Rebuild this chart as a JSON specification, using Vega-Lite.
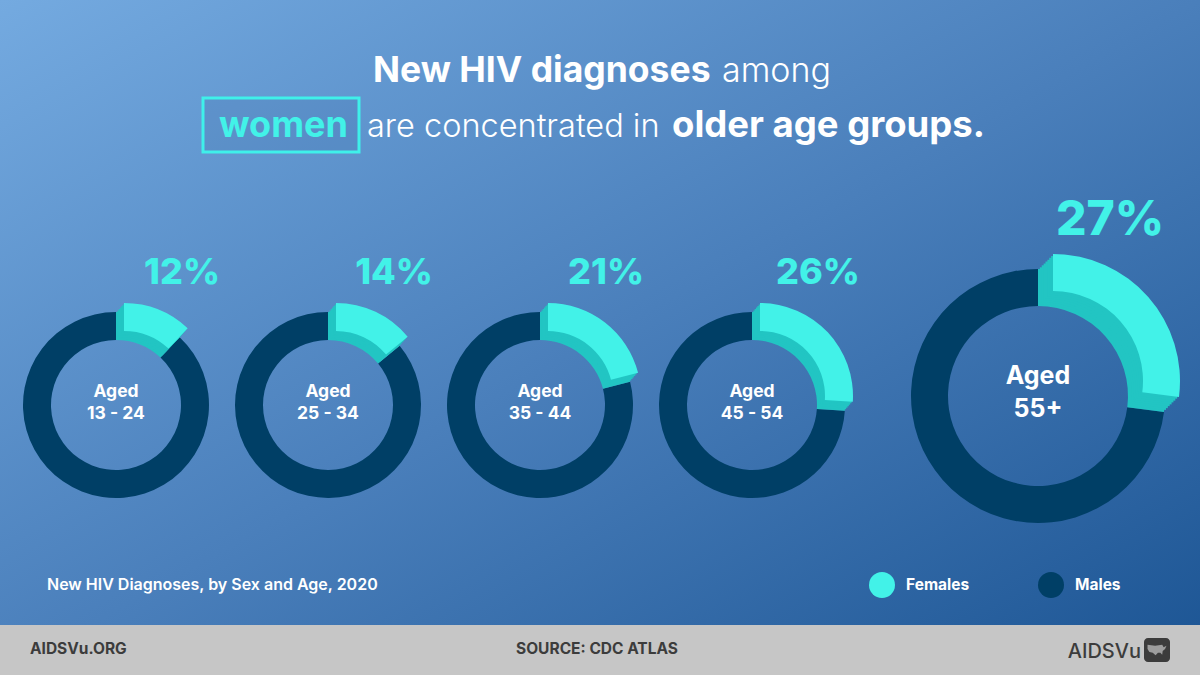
{
  "$schema": "https://vega.github.io/schema/vega-lite/v6.json",
  "width": 1200,
  "height": 675,
  "autosize": {"type": "fit", "contains": "padding"},
  "padding": 0,
  "background": "#c6c6c6",
  "config": {"view": {"stroke": null}, "text": {"font": "Inter"}},
  "datasets": {
    "hiv": [
      {"age": "13 - 24", "sex": "Females", "pct": 0.12},
      {"age": "13 - 24", "sex": "Males", "pct": 0.88},
      {"age": "25 - 34", "sex": "Females", "pct": 0.14},
      {"age": "25 - 34", "sex": "Males", "pct": 0.86},
      {"age": "35 - 44", "sex": "Females", "pct": 0.21},
      {"age": "35 - 44", "sex": "Males", "pct": 0.79},
      {"age": "45 - 54", "sex": "Females", "pct": 0.26},
      {"age": "45 - 54", "sex": "Males", "pct": 0.74},
      {"age": "55+", "sex": "Females", "pct": 0.27},
      {"age": "55+", "sex": "Males", "pct": 0.73}
    ]
  },
  "layer": [
    {
      "data": {"values": [{}]},
      "mark": {"type": "rect", "color": {"gradient": "linear", "x1": 0, "y1": 0, "x2": 1, "y2": 1, "stops": [{"offset": 0, "color": "#74aae0"}, {"offset": 0.5, "color": "#4a7fbb"}, {"offset": 1, "color": "#1b5493"}]}},
      "encoding": {}
    },
    {
      "data": {"values": [{}]},
      "mark": {"type": "rect", "color": "#c6c6c6", "y": 625, "y2": 675},
      "encoding": {}
    },
    {
      "data": {"values": [{}]},
      "mark": {"type": "rect", "x": 203, "x2": 359, "y": 98, "y2": 152, "fill": "#2f5f9a", "fillOpacity": 0.15, "stroke": "#3ff0ea", "strokeWidth": 3},
      "encoding": {}
    },
    {
      "data": {"values": [{}]},
      "mark": {"type": "text", "text": "New HIV diagnoses", "x": 373, "y": 82, "align": "left", "baseline": "alphabetic", "fontSize": 35.5, "fontWeight": 700, "color": "#ffffff"},
      "encoding": {}
    },
    {
      "data": {"values": [{}]},
      "mark": {"type": "text", "text": "among", "x": 722, "y": 82, "align": "left", "baseline": "alphabetic", "fontSize": 34, "fontWeight": 300, "color": "#ffffff"},
      "encoding": {}
    },
    {
      "data": {"values": [{}]},
      "mark": {"type": "text", "text": "women", "x": 219, "y": 137, "align": "left", "baseline": "alphabetic", "fontSize": 36, "fontWeight": 700, "color": "#42f2e8"},
      "encoding": {}
    },
    {
      "data": {"values": [{}]},
      "mark": {"type": "text", "text": "are concentrated in", "x": 367, "y": 137, "align": "left", "baseline": "alphabetic", "fontSize": 32.5, "fontWeight": 300, "color": "#ffffff"},
      "encoding": {}
    },
    {
      "data": {"values": [{}]},
      "mark": {"type": "text", "text": "older age groups.", "x": 672, "y": 137, "align": "left", "baseline": "alphabetic", "fontSize": 36.5, "fontWeight": 700, "color": "#ffffff"},
      "encoding": {}
    },
    {
      "data": {"values": [{}]},
      "mark": {"type": "text", "text": "New HIV Diagnoses, by Sex and Age, 2020", "x": 47, "y": 590, "align": "left", "baseline": "alphabetic", "fontSize": 16, "fontWeight": 600, "color": "#ffffff"},
      "encoding": {}
    },
    {
      "data": {"values": [{}]},
      "mark": {"type": "text", "text": "AIDSVu.ORG", "x": 30, "y": 654, "align": "left", "baseline": "alphabetic", "fontSize": 15.5, "fontWeight": 700, "color": "#3c3c3c"},
      "encoding": {}
    },
    {
      "data": {"values": [{}]},
      "mark": {"type": "text", "text": "SOURCE: CDC ATLAS", "x": 597, "y": 654, "align": "center", "baseline": "alphabetic", "fontSize": 15.5, "fontWeight": 700, "color": "#3c3c3c"},
      "encoding": {}
    },
    {
      "data": {"values": [{}]},
      "mark": {"type": "text", "text": "AIDSVu", "x": 1141, "y": 658, "align": "right", "baseline": "alphabetic", "fontSize": 20, "fontWeight": 500, "color": "#3c3c3c"},
      "encoding": {}
    },
    {
      "data": {"values": [{}]},
      "mark": {"type": "rect", "x": 1144, "x2": 1170, "y": 638, "y2": 662, "cornerRadius": 4, "color": "#3c3c3c"},
      "encoding": {}
    },
    {
      "data": {"values": [{}]},
      "mark": {"type": "point", "x": 1157, "y": 650, "filled": true, "color": "#c6c6c6", "size": 360, "shape": "M-1,-0.55 L-0.2,-0.45 L0.55,-0.55 L0.7,-0.3 L1,-0.45 L0.85,-0.1 L0.6,0.1 L0.55,0.5 L0.35,0.3 L0.1,0.3 L-0.15,0.55 L-0.45,0.3 L-0.8,0.2 L-1,-0.1 Z"},
      "encoding": {}
    },
    {
      "data": {"name": "hiv"},
      "transform": [
        {"filter": "datum.age != '55+'"},
        {"stack": "pct", "groupby": ["age"], "sort": [{"field": "sex", "order": "ascending"}], "as": ["p0", "p1"]}
      ],
      "encoding": {
        "x": {"field": "age", "type": "nominal", "scale": {"type": "point", "domain": ["13 - 24", "25 - 34", "35 - 44", "45 - 54"], "range": [116, 752], "padding": 0}, "axis": null},
        "y": {"value": 405}
      },
      "layer": [
        {
          "transform": [{"filter": "datum.sex == 'Males'"}],
          "mark": {"type": "arc", "radius": 93, "radius2": 65},
          "encoding": {
            "theta": {"field": "p0", "type": "quantitative", "scale": {"domain": [0, 1], "range": [0, 6.283185307179586]}},
            "theta2": {"field": "p1"},
            "color": {"field": "sex", "type": "nominal", "scale": {"domain": ["Females", "Males"], "range": ["#42f2e8", "#003f66"]}, "legend": {"orient": "none", "legendX": 869, "legendY": 572, "direction": "horizontal", "title": null, "symbolType": "circle", "symbolSize": 676, "symbolStrokeWidth": 0, "symbolOpacity": 1, "labelFont": "Inter", "labelFontSize": 15.5, "labelFontWeight": 700, "labelColor": "#ffffff", "labelOffset": 11, "columnPadding": 68}}
          }
        },
        {"transform": [{"filter": "datum.sex == 'Females'"}], "mark": {"type": "arc", "radius": 93, "radius2": 65, "color": "#22c5c3"}, "encoding": {"theta": {"field": "p0", "type": "quantitative", "scale": {"domain": [0, 1], "range": [0, 6.283185307179586]}}, "theta2": {"field": "p1"}}},
        {"transform": [{"filter": "datum.sex == 'Females'"}], "mark": {"type": "arc", "radius": 93, "radius2": 65, "color": "#22c5c3", "xOffset": 1.33, "yOffset": -1.5}, "encoding": {"theta": {"field": "p0", "type": "quantitative", "scale": {"domain": [0, 1], "range": [0, 6.283185307179586]}}, "theta2": {"field": "p1"}}},
        {"transform": [{"filter": "datum.sex == 'Females'"}], "mark": {"type": "arc", "radius": 93, "radius2": 65, "color": "#22c5c3", "xOffset": 2.67, "yOffset": -3}, "encoding": {"theta": {"field": "p0", "type": "quantitative", "scale": {"domain": [0, 1], "range": [0, 6.283185307179586]}}, "theta2": {"field": "p1"}}},
        {"transform": [{"filter": "datum.sex == 'Females'"}], "mark": {"type": "arc", "radius": 93, "radius2": 65, "color": "#22c5c3", "xOffset": 4, "yOffset": -4.5}, "encoding": {"theta": {"field": "p0", "type": "quantitative", "scale": {"domain": [0, 1], "range": [0, 6.283185307179586]}}, "theta2": {"field": "p1"}}},
        {"transform": [{"filter": "datum.sex == 'Females'"}], "mark": {"type": "arc", "radius": 93, "radius2": 65, "color": "#22c5c3", "xOffset": 5.33, "yOffset": -6}, "encoding": {"theta": {"field": "p0", "type": "quantitative", "scale": {"domain": [0, 1], "range": [0, 6.283185307179586]}}, "theta2": {"field": "p1"}}},
        {"transform": [{"filter": "datum.sex == 'Females'"}], "mark": {"type": "arc", "radius": 93, "radius2": 65, "color": "#22c5c3", "xOffset": 6.67, "yOffset": -7.5}, "encoding": {"theta": {"field": "p0", "type": "quantitative", "scale": {"domain": [0, 1], "range": [0, 6.283185307179586]}}, "theta2": {"field": "p1"}}},
        {
          "transform": [{"filter": "datum.sex == 'Females'"}],
          "mark": {"type": "arc", "radius": 93, "radius2": 65, "xOffset": 8, "yOffset": -9},
          "encoding": {
            "theta": {"field": "p0", "type": "quantitative", "scale": {"domain": [0, 1], "range": [0, 6.283185307179586]}},
            "theta2": {"field": "p1"},
            "color": {"field": "sex", "type": "nominal", "scale": {"domain": ["Females", "Males"], "range": ["#42f2e8", "#003f66"]}}
          }
        },
        {
          "transform": [{"filter": "datum.sex == 'Females'"}],
          "mark": {"type": "text", "text": "Aged", "dy": -8, "baseline": "alphabetic", "fontSize": 17.5, "fontWeight": 700, "color": "#ffffff"}
        },
        {
          "transform": [{"filter": "datum.sex == 'Females'"}],
          "mark": {"type": "text", "dy": 14, "baseline": "alphabetic", "fontSize": 17.5, "fontWeight": 700, "color": "#ffffff"},
          "encoding": {"text": {"field": "age"}}
        },
        {
          "transform": [{"filter": "datum.sex == 'Females'"}],
          "mark": {"type": "text", "dx": 66, "dy": -121, "baseline": "alphabetic", "fontSize": 36, "fontWeight": 800, "color": "#42f2e8"},
          "encoding": {"text": {"field": "pct", "format": ".0%"}}
        }
      ]
    },
    {
      "data": {"name": "hiv"},
      "transform": [
        {"filter": "datum.age == '55+'"},
        {"stack": "pct", "groupby": ["age"], "sort": [{"field": "sex", "order": "ascending"}], "as": ["p0", "p1"]}
      ],
      "encoding": {
        "x": {"field": "age", "type": "nominal", "scale": {"type": "point", "domain": ["55+"], "range": [1038, 1038], "padding": 0}, "axis": null},
        "y": {"value": 396}
      },
      "layer": [
        {
          "transform": [{"filter": "datum.sex == 'Males'"}],
          "mark": {"type": "arc", "radius": 127, "radius2": 90},
          "encoding": {
            "theta": {"field": "p0", "type": "quantitative", "scale": {"domain": [0, 1], "range": [0, 6.283185307179586]}},
            "theta2": {"field": "p1"},
            "color": {"field": "sex", "type": "nominal", "scale": {"domain": ["Females", "Males"], "range": ["#42f2e8", "#003f66"]}}
          }
        },
        {"transform": [{"filter": "datum.sex == 'Females'"}], "mark": {"type": "arc", "radius": 127, "radius2": 90, "color": "#22c5c3"}, "encoding": {"theta": {"field": "p0", "type": "quantitative", "scale": {"domain": [0, 1], "range": [0, 6.283185307179586]}}, "theta2": {"field": "p1"}}},
        {"transform": [{"filter": "datum.sex == 'Females'"}], "mark": {"type": "arc", "radius": 127, "radius2": 90, "color": "#22c5c3", "xOffset": 1.875, "yOffset": -1.875}, "encoding": {"theta": {"field": "p0", "type": "quantitative", "scale": {"domain": [0, 1], "range": [0, 6.283185307179586]}}, "theta2": {"field": "p1"}}},
        {"transform": [{"filter": "datum.sex == 'Females'"}], "mark": {"type": "arc", "radius": 127, "radius2": 90, "color": "#22c5c3", "xOffset": 3.75, "yOffset": -3.75}, "encoding": {"theta": {"field": "p0", "type": "quantitative", "scale": {"domain": [0, 1], "range": [0, 6.283185307179586]}}, "theta2": {"field": "p1"}}},
        {"transform": [{"filter": "datum.sex == 'Females'"}], "mark": {"type": "arc", "radius": 127, "radius2": 90, "color": "#22c5c3", "xOffset": 5.625, "yOffset": -5.625}, "encoding": {"theta": {"field": "p0", "type": "quantitative", "scale": {"domain": [0, 1], "range": [0, 6.283185307179586]}}, "theta2": {"field": "p1"}}},
        {"transform": [{"filter": "datum.sex == 'Females'"}], "mark": {"type": "arc", "radius": 127, "radius2": 90, "color": "#22c5c3", "xOffset": 7.5, "yOffset": -7.5}, "encoding": {"theta": {"field": "p0", "type": "quantitative", "scale": {"domain": [0, 1], "range": [0, 6.283185307179586]}}, "theta2": {"field": "p1"}}},
        {"transform": [{"filter": "datum.sex == 'Females'"}], "mark": {"type": "arc", "radius": 127, "radius2": 90, "color": "#22c5c3", "xOffset": 9.375, "yOffset": -9.375}, "encoding": {"theta": {"field": "p0", "type": "quantitative", "scale": {"domain": [0, 1], "range": [0, 6.283185307179586]}}, "theta2": {"field": "p1"}}},
        {"transform": [{"filter": "datum.sex == 'Females'"}], "mark": {"type": "arc", "radius": 127, "radius2": 90, "color": "#22c5c3", "xOffset": 11.25, "yOffset": -11.25}, "encoding": {"theta": {"field": "p0", "type": "quantitative", "scale": {"domain": [0, 1], "range": [0, 6.283185307179586]}}, "theta2": {"field": "p1"}}},
        {"transform": [{"filter": "datum.sex == 'Females'"}], "mark": {"type": "arc", "radius": 127, "radius2": 90, "color": "#22c5c3", "xOffset": 13.125, "yOffset": -13.125}, "encoding": {"theta": {"field": "p0", "type": "quantitative", "scale": {"domain": [0, 1], "range": [0, 6.283185307179586]}}, "theta2": {"field": "p1"}}},
        {
          "transform": [{"filter": "datum.sex == 'Females'"}],
          "mark": {"type": "arc", "radius": 127, "radius2": 90, "xOffset": 15, "yOffset": -15},
          "encoding": {
            "theta": {"field": "p0", "type": "quantitative", "scale": {"domain": [0, 1], "range": [0, 6.283185307179586]}},
            "theta2": {"field": "p1"},
            "color": {"field": "sex", "type": "nominal", "scale": {"domain": ["Females", "Males"], "range": ["#42f2e8", "#003f66"]}}
          }
        },
        {
          "transform": [{"filter": "datum.sex == 'Females'"}],
          "mark": {"type": "text", "text": "Aged", "dy": -12, "baseline": "alphabetic", "fontSize": 25, "fontWeight": 700, "color": "#ffffff"}
        },
        {
          "transform": [{"filter": "datum.sex == 'Females'"}],
          "mark": {"type": "text", "dy": 21, "baseline": "alphabetic", "fontSize": 25, "fontWeight": 700, "color": "#ffffff"},
          "encoding": {"text": {"field": "age"}}
        },
        {
          "transform": [{"filter": "datum.sex == 'Females'"}],
          "mark": {"type": "text", "dx": 72, "dy": -161, "baseline": "alphabetic", "fontSize": 48, "fontWeight": 800, "color": "#42f2e8"},
          "encoding": {"text": {"field": "pct", "format": ".0%"}}
        }
      ]
    }
  ],
  "resolve": {"scale": {"x": "independent"}}
}
